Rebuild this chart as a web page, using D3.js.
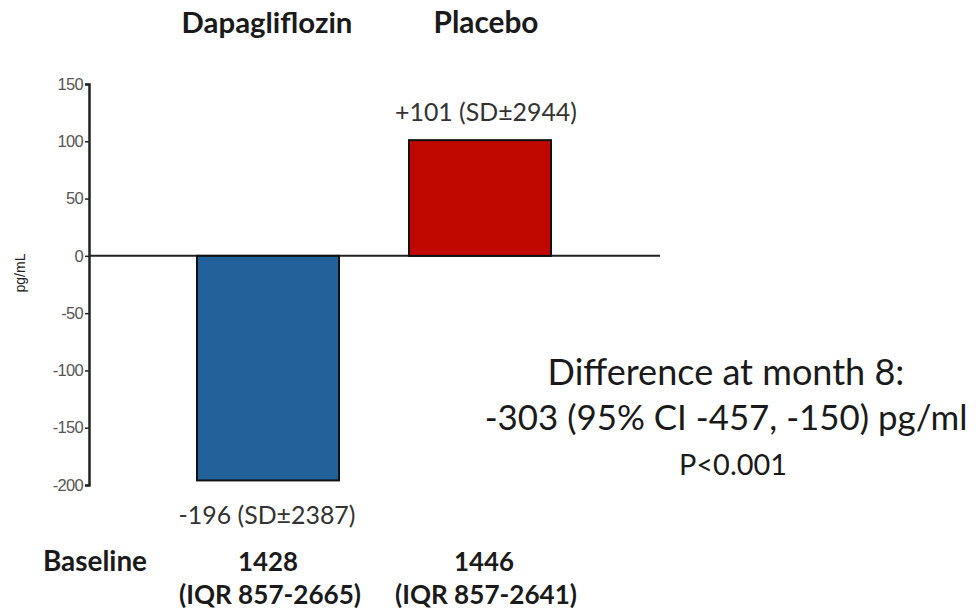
<!DOCTYPE html>
<html><head><meta charset="utf-8">
<script src="https://cdn.jsdelivr.net/npm/d3@7"></script>
<style>body{margin:0;background:#fff}svg{display:block}</style>
</head><body>
<script>
const categories = ["Dapagliflozin", "Placebo"];
const changes = [-196, 101];
const valueLabels = ["-196 (SD\u00b12387)", "+101 (SD\u00b12944)"];
const baselineMedians = ["1428", "1446"];
const baselineIQR = ["(IQR 857-2665)", "(IQR 857-2641)"];
const yTicks = [150, 100, 50, 0, -50, -100, -150, -200];
const diffLines = ["Difference at month 8:", "-303 (95% CI -457, -150) pg/ml", "P<0.001"];
const colors = ["#22619a", "#c00800"];

const W = 976, H = 615;
const svg = d3.select("body").append("svg").attr("width", W).attr("height", H);
const FONT = "Lato, 'Open Sans', sans-serif";

const y = d3.scaleLinear().domain([-200, 150]).range([485, 84]);
const x = d3.scaleBand().domain(categories).range([162, 586]).paddingInner(0.33).paddingOuter(0.165);

function fit(sel, target) {
  const base = 20;
  sel.attr("font-size", base);
  const w = sel.node().getComputedTextLength();
  sel.attr("font-size", base * target / w);
  return sel;
}

// zero line
svg.append("line").attr("x1", 89).attr("x2", 660).attr("y1", y(0)).attr("y2", y(0))
  .attr("stroke", "#222").attr("stroke-width", 2);

// bars
svg.selectAll("rect.bar").data(categories).join("rect").attr("class", "bar")
  .attr("x", d => x(d)).attr("width", x.bandwidth())
  .attr("y", (d, i) => y(Math.max(0, changes[i])))
  .attr("height", (d, i) => Math.abs(y(changes[i]) - y(0)))
  .attr("fill", (d, i) => colors[i]).attr("stroke", "#111").attr("stroke-width", 2);

// y axis
const ax = svg.append("g").attr("transform", "translate(89,0)")
  .call(d3.axisLeft(y).tickValues(yTicks).tickSize(4).tickPadding(2).tickFormat(d => String(d)));
ax.attr("font-size", null);
ax.select(".domain").attr("stroke", "#222").attr("stroke-width", 2.5);
ax.selectAll(".tick line").attr("stroke", "#222").attr("stroke-width", 1.5);
ax.selectAll(".tick text").attr("font-family", "Arial, 'Liberation Sans', sans-serif")
  .style("font-size", "16.5px").attr("fill", "#555").attr("letter-spacing", "-0.7");

svg.append("text").attr("transform", "translate(25,273) rotate(-90)").attr("text-anchor", "middle")
  .attr("font-family", "Arial, 'Liberation Sans', sans-serif").style("font-size", "14px").attr("fill", "#222")
  .text("pg/mL");

// headers
const hdrW = [171, 105];
categories.forEach((c, i) => {
  const t = svg.append("text").attr("x", x(c) + x.bandwidth() / 2 + (i ? 6 : -1)).attr("y", 33)
    .attr("text-anchor", "middle").attr("font-family", FONT).attr("font-weight", "bold").attr("fill", "#1a1a1a").text(c);
  fit(t, hdrW[i]);
});

// value labels
categories.forEach((c, i) => {
  const v = changes[i];
  const t = svg.append("text").attr("x", x(c) + x.bandwidth() / 2 + (i ? 6 : -1))
    .attr("y", v < 0 ? y(v) + 44 : y(v) - 19)
    .attr("text-anchor", "middle").attr("font-family", FONT).attr("fill", "#333").text(valueLabels[i]);
  fit(t, i ? 182 : 177);
});

// baseline row
fit(svg.append("text").attr("x", 95).attr("y", 571).attr("text-anchor", "middle")
  .attr("font-family", FONT).attr("font-weight", "bold").attr("fill", "#1a1a1a").text("Baseline"), 104);
categories.forEach((c, i) => {
  const cx = x(c) + x.bandwidth() / 2 + (i ? 4 : 0);
  fit(svg.append("text").attr("x", cx).attr("y", 571).attr("text-anchor", "middle")
    .attr("font-family", FONT).attr("font-weight", "bold").attr("fill", "#1a1a1a").text(baselineMedians[i]), 60);
  fit(svg.append("text").attr("x", cx + 2).attr("y", 604).attr("text-anchor", "middle")
    .attr("font-family", FONT).attr("font-weight", "bold").attr("fill", "#1a1a1a").text(baselineIQR[i]), 182);
});

// difference text
const diffW = [357, 483, 108];
const diffX = [726, 726, 733];
diffLines.forEach((s, i) => {
  fit(svg.append("text").attr("x", diffX[i]).attr("y", 385 + i * 45).attr("text-anchor", "middle")
    .attr("font-family", FONT).attr("fill", "#1a1a1a").text(s), diffW[i]);
});
</script>
</body></html>
